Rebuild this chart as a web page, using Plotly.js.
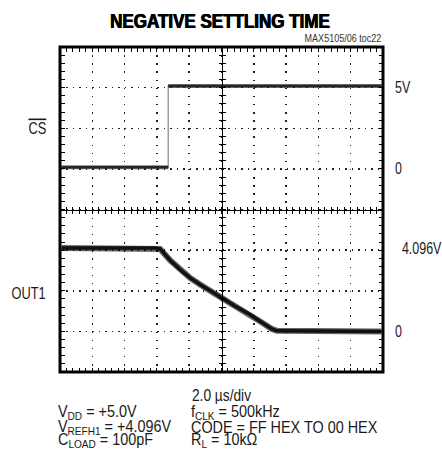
<!DOCTYPE html>
<html><head><meta charset="utf-8">
<script src="https://cdn.plot.ly/plotly-3.0.1.min.js"></script>
<style>html,body{margin:0;padding:0;background:#fff}#chart{width:442px;height:469px}</style>
</head><body><div id="chart"></div>
<script>
// Time axis (µs): 2.0 µs/div, 10 divisions
const timeRange = [0, 20];
// CS-bar trace (V), 2.5 V/div
const csTime  = [0.1, 6.7, 6.7, 19.9];
const csVolts = [0.1, 0.1, 5.1, 5.1];
// OUT1 trace (V), ~2 V/div
const outTime  = [0.1, 5.9, 6.2, 6.82, 7.44, 8.06, 8.67, 9.29, 9.91, 10.83, 11.76, 12.50, 13.12, 13.43, 19.9];
const outVolts = [4.11, 4.11, 4.06, 3.50, 3.04, 2.63, 2.31, 1.98, 1.70, 1.25, 0.83, 0.44, 0.12, 0.03, 0.0];
// Right-hand level labels
const csTickVals  = [0, 5];
const csTickText  = ['0', '5V'];
const outTickVals = [0, 4.096];
const outTickText = ['0', '\u00a0\u00a04.096V'];
// Channel labels
const channelLabels = ['<span style="text-decoration:overline">CS</span>', 'OUT1'];
// Test conditions
const timebase = '2.0 \u00b5s/div';
const condLeft  = ['V<sub>DD</sub> = +5.0V', 'V<sub>REFH1</sub> = +4.096V', 'C<sub>LOAD</sub> = 100pF'];
const condRight = ['f<sub>CLK</sub> = 500kHz', 'CODE = FF HEX TO 00 HEX', 'R<sub>L</sub> = 10k\u03a9'];
const figId = 'MAX5105/06 toc22';
const titleText = 'NEGATIVE SETTLING TIME';

const FONT = "'Liberation Sans', Arial, sans-serif";

const traces = [
  // main graticule subplot + helper subplots (no data)
  {type:'scatter', x:[], y:[], xaxis:'x', yaxis:'y', hoverinfo:'skip'},
  {type:'scatter', x:[], y:[], xaxis:'x2', yaxis:'y', hoverinfo:'skip'},
  {type:'scatter', x:[], y:[], xaxis:'x3', yaxis:'y', hoverinfo:'skip'},
  {type:'scatter', x:[], y:[], xaxis:'x', yaxis:'y4', hoverinfo:'skip'},
  {type:'scatter', x:[], y:[], xaxis:'x', yaxis:'y5', hoverinfo:'skip'},
  // CS: fast edge (thin, light)
  {type:'scatter', mode:'lines', x:csTime, y:csVolts, xaxis:'x', yaxis:'y2',
   line:{color:'#909090', width:1.3}, hoverinfo:'skip'},
  // CS: levels (thick, fuzzy)
  {type:'scatter', mode:'lines', x:[csTime[0], csTime[1], null, csTime[2], csTime[3]],
   y:[csVolts[0], csVolts[1], null, csVolts[2], csVolts[3]], xaxis:'x', yaxis:'y2',
   line:{color:'rgba(40,40,40,0.6)', width:4.2}, hoverinfo:'skip'},
  {type:'scatter', mode:'lines', x:[csTime[0], csTime[1], null, csTime[2], csTime[3]],
   y:[csVolts[0], csVolts[1], null, csVolts[2], csVolts[3]], xaxis:'x', yaxis:'y2',
   line:{color:'#262626', width:2.4}, hoverinfo:'skip'},
  // OUT1
  {type:'scatter', mode:'lines', x:outTime, y:outVolts, xaxis:'x', yaxis:'y3',
   line:{color:'rgba(0,0,0,0.6)', width:6}, hoverinfo:'skip'},
  {type:'scatter', mode:'lines', x:outTime, y:outVolts, xaxis:'x', yaxis:'y3',
   line:{color:'#111', width:3.5}, hoverinfo:'skip'}
];

const tickCommon = {ticks:'inside', ticklen:4.5, tickwidth:1, tickcolor:'#000'};
const centerAxisX = {overlaying:'x', anchor:'free', position:0.5, range:timeRange,
  dtick:0.4, tick0:0, tickcolor:'#000', tickwidth:1, ticklen:3,
  showgrid:false, zeroline:false, showticklabels:false, fixedrange:true};
const centerAxisY = {overlaying:'y', anchor:'free', position:0.5, range:[-4,4],
  dtick:0.2, tick0:0, tickcolor:'#000', tickwidth:1, ticklen:3,
  showgrid:false, zeroline:false, showticklabels:false, fixedrange:true};

const annotations = [
  {text: channelLabels[0], xref:'paper', x:-0.038, xanchor:'right', align:'right', yref:'y', y:2.0, yanchor:'middle',
   showarrow:false, font:{size:16}},
  {text: channelLabels[1], xref:'paper', x:-0.038, xanchor:'right', align:'right', yref:'y', y:-2.07, yanchor:'middle',
   showarrow:false, font:{size:16}},
  {text: figId, xref:'paper', x:1.0, xanchor:'right', align:'right', yref:'paper', y:1.0286, yanchor:'middle',
   showarrow:false, font:{size:10.5, color:'#333'}}
];
const rowY = [-0.124, -0.171, -0.211];
condLeft.forEach((t, i) => annotations.push({text:t, xref:'paper', x:-0.012, xanchor:'left', align:'left',
  yref:'paper', y:rowY[i], yanchor:'middle', showarrow:false, font:{size:16}}));
condRight.forEach((t, i) => annotations.push({text:t, xref:'paper', x:0.400, xanchor:'left', align:'left',
  yref:'paper', y:rowY[i], yanchor:'middle', showarrow:false, font:{size:16}}));

const layout = {
  width:442, height:469,
  margin:{l:59.5, r:58.5, t:47.3, b:96.5, pad:0},
  paper_bgcolor:'#fff', plot_bgcolor:'#fff', showlegend:false,
  font:{family:FONT, size:16, color:'#1a1a1a'},
  title:{text:titleText, x:0.4977, xanchor:'center', y:0.956, yanchor:'middle',
    font:{family:FONT, size:21, weight:'bold', color:'#000', shadow:'0.5px 0 0 #000, -0.5px 0 0 #000'}},
  xaxis:Object.assign({range:timeRange, dtick:2, tick0:0, showgrid:true, gridcolor:'#222', gridwidth:1.5,
    griddash:'1.5px,6.63px', zeroline:false, showline:false, mirror:'ticks', showticklabels:false,
    minor:{dtick:0.4, tick0:0, ticks:'inside', ticklen:4.5, tickwidth:1, tickcolor:'#000', showgrid:false},
    title:{text:timebase, font:{size:16}, standoff:17}, fixedrange:true}, tickCommon),
  yaxis:Object.assign({range:[-4,4], dtick:1, tick0:0, showgrid:true, gridcolor:'#222', gridwidth:1.5,
    griddash:'1.5px,4.98px', zeroline:false, showline:false, mirror:'ticks', showticklabels:false,
    minor:{dtick:0.2, tick0:0, ticks:'inside', ticklen:4.5, tickwidth:1, tickcolor:'#000', showgrid:false},
    fixedrange:true}, tickCommon),
  xaxis2:Object.assign({}, centerAxisX, {showline:true, linecolor:'#000', linewidth:1, ticks:'inside'}),
  xaxis3:Object.assign({}, centerAxisX, {showline:false, ticks:'outside'}),
  yaxis4:Object.assign({}, centerAxisY, {showline:true, linecolor:'#000', linewidth:1, ticks:'inside'}),
  yaxis5:Object.assign({}, centerAxisY, {showline:false, ticks:'outside'}),
  yaxis2:{overlaying:'y', side:'right', anchor:'x', range:[-12.5, 7.5], tickmode:'array',
    tickvals:csTickVals, ticktext:csTickText, showgrid:false, zeroline:false, showline:false,
    ticks:'', ticklabelstandoff:11, tickfont:{size:16}, fixedrange:true},
  yaxis3:{overlaying:'y', side:'right', anchor:'x', range:[-2, 14], tickmode:'array',
    tickvals:outTickVals, ticktext:outTickText, showgrid:false, zeroline:false, showline:false,
    ticks:'', ticklabelstandoff:11, tickfont:{size:16}, fixedrange:true},
  shapes:[{type:'rect', xref:'paper', yref:'paper', x0:0, x1:1, y0:0, y1:1,
    line:{color:'#000', width:3}, layer:'above'}],
  annotations: annotations
};

// Horizontally condense text around its anchor to mimic a condensed face
function condense(root, selector, s) {
  root.querySelectorAll(selector).forEach(el => {
    const x = parseFloat(el.getAttribute('x')) || 0;
    const y = parseFloat(el.getAttribute('y')) || 0;
    const t = el.getAttribute('transform') || '';
    el.setAttribute('transform', t + ' translate(' + x + ',' + y + ') scale(' + s + ',1) translate(' + (-x) + ',' + (-y) + ')');
  });
}

Plotly.newPlot('chart', traces, layout, {staticPlot:true, displayModeBar:false}).then(gd => {
  condense(gd, '.gtitle', 0.81);
  condense(gd, '.y2tick text, .y3tick text', 0.78);
  condense(gd, '.annotation[data-index="0"] .annotation-text, .annotation[data-index="1"] .annotation-text', 0.8);
  condense(gd, '.annotation[data-index="2"] .annotation-text', 0.86);
  for (let i = 3; i < annotations.length; i++) {
    condense(gd, '.annotation[data-index="' + i + '"] .annotation-text', 0.9);
  }
  condense(gd, '.xtitle', 0.86);
});
</script>
</body></html>
